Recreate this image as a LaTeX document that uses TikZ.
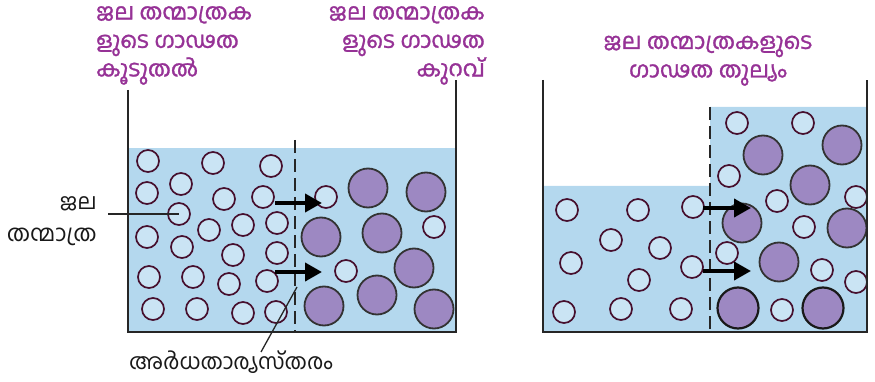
\documentclass[tikz,border=0pt]{standalone}
\usepackage{fontspec}
\newfontfamily\mlfont[Script=Malayalam]{Hind Kochi}
\newfontfamily\mlfontbold[Script=Malayalam,FakeBold=1.2]{Hind Kochi}
\usetikzlibrary{arrows.meta}
\definecolor{water}{RGB}{180,216,238}
\definecolor{molfill}{RGB}{202,228,244}
\definecolor{molline}{RGB}{70,15,45}
\definecolor{solute}{RGB}{157,136,194}
\definecolor{titlepurple}{RGB}{150,50,150}
\tikzset{
  waterfill/.style={fill=water, draw=none},
  wall/.style={draw=black!85, line width=1.5pt},
  membrane/.style={draw=black!85, line width=1.4pt, dash pattern=on 13pt off 6pt},
  mol/.style={circle, minimum size=22pt, inner sep=0pt, draw=molline, line width=1.7pt, fill=molfill},
  bigmol/.style={circle, minimum size=39pt, inner sep=0pt, draw=black!80, line width=1.8pt, fill=solute},
  flow/.style={line width=4pt, -{Triangle[length=17pt,width=18pt]}},
  leader/.style={draw=black!85, line width=1.3pt},
  titletext/.style={text=titlepurple, font=\mlfontbold\fontsize{22.5}{28.5}\selectfont, inner sep=0pt},
  labeltext/.style={text=black!90, inner sep=0pt, font=\mlfont\fontsize{22}{26}\selectfont}
}
\begin{document}
\begin{tikzpicture}[x=1pt, y=-1pt]
\useasboundingbox (0,0) rectangle (875,382);

% ---------- left beaker ----------
\fill[waterfill] (128,148) rectangle (456,332);
\draw[membrane] (295,140) -- (295,332);

% water molecules, concentrated side
\foreach \n/\x/\y in {
  1/148/161, 2/213/163, 3/271/166,
  4/147/193, 5/181/184, 6/224/199, 7/263/197,
  8/179/214, 9/209/230, 10/243/225, 11/277/223,
  12/147/237, 13/182/247, 14/233/255, 15/277/253,
  16/149/277, 17/193/277, 18/229/284, 19/267/281,
  20/153/309, 21/197/309, 22/243/313, 23/276/312}
  \node[mol] (L\n) at (\x,\y) {};

% dilute side
\foreach \n/\x/\y in {1/326/197, 2/434/227, 3/346/271}
  \node[mol] (R\n) at (\x,\y) {};
\foreach \n/\x/\y in {
  1/368/188, 2/426/192, 3/321/237, 4/382/233,
  5/414/268, 6/324/306, 7/377/295, 8/434/309}
  \node[bigmol] (S\n) at (\x,\y) {};

\draw[wall] (128,90) -- (128,332) -- (456,332) -- (456,80);

\coordinate (fa1) at (275,203);
\coordinate (fb1) at (322,203);
\coordinate (fa2) at (275,272);
\coordinate (fb2) at (322,272);
\draw[flow] (fa1) -- (fb1);
\draw[flow] (fa2) -- (fb2);

% ---------- right beaker ----------
\fill[waterfill] (543,186) -- (710,186) -- (710,107) -- (867,107) -- (867,332) -- (543,332) -- cycle;
\draw[membrane] (710,107) -- (710,332);

\foreach \n/\x/\y in {
  1/567/210, 2/638/210, 3/693/207, 4/611/240, 5/660/248,
  6/571/263, 7/692/267, 8/639/280, 9/564/312, 10/621/309, 11/681/309}
  \node[mol] (P\n) at (\x,\y) {};
\foreach \n/\x/\y in {
  1/737/123, 2/803/123, 3/729/176, 4/777/201, 5/856/197,
  6/804/227, 7/727/253, 8/822/270, 9/856/282, 10/782/310}
  \node[mol] (Q\n) at (\x,\y) {};
\foreach \n/\x/\y in {
  1/763/155, 2/842/145, 3/810/185, 4/742/223,
  5/847/228, 6/779/262}
  \node[bigmol] (T\n) at (\x,\y) {};
\node[bigmol, minimum size=41pt, draw=black!90, line width=2.2pt] (T7) at (738,308) {};
\node[bigmol, minimum size=41pt, draw=black!90, line width=2.2pt] (T8) at (823,308) {};

\draw[wall] (543,80) -- (543,332) -- (867,332) -- (867,80);

\coordinate (ga1) at (703,208);
\coordinate (gb1) at (751,208);
\coordinate (ga2) at (703,271);
\coordinate (gb2) at (751,271);
\draw[flow] (ga1) -- (gb1);
\draw[flow] (ga2) -- (gb2);

% ---------- labels ----------
\node[titletext, anchor=north west, align=left] (t1) at (96,6)
  {ജല തന്മാത്രക\\ളുടെ ഗാഢത\\കൂടുതൽ};
\node[titletext, anchor=north east, align=right] (t2) at (485,6)
  {ജല തന്മാത്രക\\ളുടെ ഗാഢത\\കുറവ്};
\node[titletext, anchor=north, align=center] (t3) at (708,35)
  {ജല തന്മാത്രകളുടെ\\ഗാഢത തുല്യം};

\node[labeltext, anchor=base east, font=\mlfont\fontsize{22}{26}\selectfont] (wm1) at (97,209) {ജല};
\node[labeltext, anchor=base east, font=\mlfont\fontsize{23}{26}\selectfont] (wm2) at (97,241) {തന്മാത്ര};
\coordinate (wmend) at (108,214);
\draw[leader] (wmend) -- (L8.center);

\node[labeltext, anchor=west] (sp) at (129,362) {അർധതാര്യസ്തരം};
\coordinate (spa) at (297,287);
\coordinate (spb) at (261,352);
\draw[leader] (spa) -- (spb);

\end{tikzpicture}
\end{document}
